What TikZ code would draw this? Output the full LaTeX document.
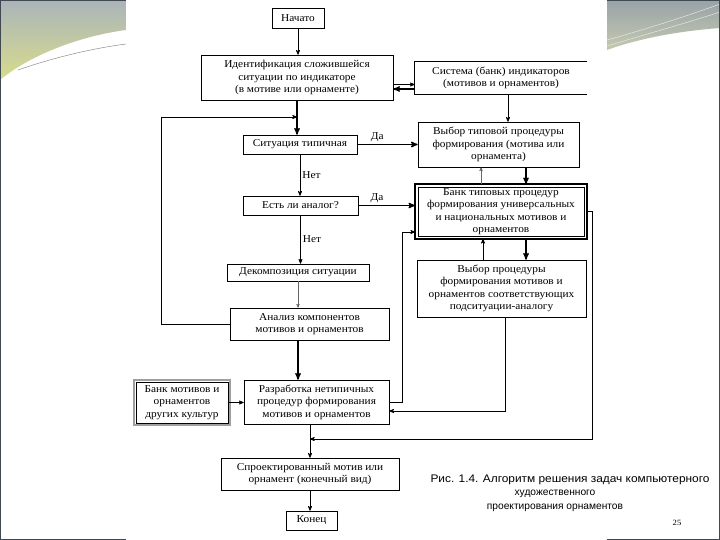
\documentclass[tikz,border=0pt]{standalone}
\usepackage{fontspec}
\setmainfont{Liberation Serif}[FakeStretch=1.08]
\newfontfamily\podpis{Liberation Sans}[FakeStretch=1.08]
\newfontfamily\podpisuzk{Liberation Sans}
\usetikzlibrary{calc,positioning,arrows}
\definecolor{ramka}{RGB}{64,72,80}
\definecolor{seryj}{RGB}{170,180,186}
\definecolor{zhelt}{RGB}{216,220,140}
\definecolor{olivk}{RGB}{196,202,176}

\begin{document}
\begin{tikzpicture}[x=1pt,y=-1pt,>=stealth',
    blok/.style={draw,line width=0.6pt,align=center,inner sep=1pt,font=\fontsize{10.5}{12.5}\selectfont},
    linia/.style={->,line width=0.7pt},
    tolst/.style={->,line width=1.3pt},
    tonk/.style={->,line width=0.45pt,black!60},
    metka/.style={font=\fontsize{10.5}{12}\selectfont,inner sep=2pt},
    podp/.style={font=\podpis\fontsize{11}{12}\selectfont},
    podp2/.style={font=\podpisuzk\fontsize{10.2}{12}\selectfont}]

    \useasboundingbox (0,0) rectangle (720,540);

    %Fond du slide
    \fill[white] (0,0) rectangle (720,540);
    \shade[top color=seryj,bottom color=zhelt] (0,0) -- (126,0) -- (126,30) .. controls (80,36) and (30,55) .. (0,80) -- cycle;
    \draw[black!45,line width=0.5pt] (18,70) .. controls (55,57) and (95,48) .. (126,44);
    \shade[top color=seryj!90!black,bottom color=olivk] (607,0) -- (720,0) -- (720,28) .. controls (680,31) and (640,38) .. (607,50) -- cycle;
    \draw[white!80!gray,line width=0.5pt] (607,40) .. controls (650,28) and (690,15) .. (720,4);
    \draw[white!80!gray,line width=0.5pt] (607,46) .. controls (650,33) and (690,22) .. (720,12);
    \draw[ramka,line width=1.5pt] (0,0) rectangle (720,540);
    \fill[white] (126,0) rectangle (607,540);

    %Blocs
    \node[blok,minimum width=52pt,minimum height=20pt] (nachalo) at (298,18) {Начато};
    \node[blok,minimum width=192pt,minimum height=45pt] (ident) at (297,77.5) {Идентификация сложившейся\\ситуации по индикаторе\\(в мотиве или орнаменте)};
    \node[blok,draw=none,minimum width=172pt,minimum height=32pt] (sistema) at (501,78) {Система (банк) индикаторов\\(мотивов и орнаментов)};
    \draw[line width=0.6pt] (sistema.north east) -| (sistema.south west) -- (sistema.south east);
    \node[blok,minimum width=114pt,minimum height=19pt] (tipich) at (300,144.5) {Ситуация типичная};
    \node[blok,minimum width=161pt,minimum height=45pt] (vybortip) at (498.5,144.5) {Выбор типовой процедуры\\формирования (мотива или\\орнамента)};
    \node[blok,minimum width=115pt,minimum height=19pt] (analog) at (300.5,205.5) {Есть ли аналог?};
    \node[blok,minimum width=166pt,minimum height=49pt] (bank) at (501,211.5) {Банк типовых процедур\\формирования универсальных\\и национальных мотивов и\\орнаментов};
    \draw[line width=1.3pt] ([shift={(-2.6pt,2.6pt)}]bank.north west) rectangle ([shift={(2.6pt,-2.6pt)}]bank.south east);
    \node[blok,minimum width=142pt,minimum height=17pt] (dekomp) at (298,272.5) {Декомпозиция ситуации};
    \node[blok,minimum width=169pt,minimum height=57pt] (vyborproc) at (501.5,288.5) {Выбор процедуры\\формирования мотивов и\\орнаментов соответствующих\\подситуации-аналогу};
    \node[blok,minimum width=159pt,minimum height=32pt] (analiz) at (309.5,324) {Анализ компонентов\\мотивов и орнаментов};
    \node[blok,minimum width=145pt,minimum height=44pt] (razrab) at (316.5,402) {Разработка нетипичных\\процедур формирования\\мотивов и орнаментов};
    \node[blok,minimum width=92pt,minimum height=41pt] (drugie) at (182,402.5) {Банк мотивов и\\орнаментов\\других культур};
    \draw[gray!75,line width=2.6pt] ([shift={(-1.6pt,1.6pt)}]drugie.north west) rectangle ([shift={(1.6pt,-1.6pt)}]drugie.south east);
    \node[blok,minimum width=178pt,minimum height=32pt] (sproekt) at (310,474) {Спроектированный мотив или\\орнамент (конечный вид)};
    \node[blok,minimum width=51pt,minimum height=19pt] (konec) at (311.5,520.5) {Конец};

    %Fleches
    \draw[linia] (nachalo.south) -- (nachalo.south |- ident.north);
    \draw[linia] ([yshift=-7pt]ident.east) -- ([yshift=-7pt]ident.east -| sistema.west);
    \draw[tolst] ([yshift=-11.5pt]ident.east -| sistema.west) -- ([yshift=-11.5pt]ident.east);
    \draw[tolst] (ident.south) -- (ident.south |- tipich.north);
    \coordinate (vozvrat) at (297,117);
    \draw[linia] (analiz.west) -- ++(-68,0) |- (vozvrat);
    \draw[tolst] (tipich.east) -- node[metka,above,pos=0.33]{Да} (tipich.east -| vybortip.west);
    \draw[linia] ([xshift=7pt]sistema.south) -- ([xshift=7pt]sistema.south |- vybortip.north);
    \draw[linia] (tipich.south) -- node[metka,right,pos=0.5]{Нет} (tipich.south |- analog.north);
    \draw[tolst] (analog.east) -- node[metka,above,pos=0.33]{Да} ([xshift=-2.6pt]analog.east -| bank.west);
    \draw[tonk] ([xshift=-20pt,yshift=2.6pt]bank.north) -- ([xshift=-20pt]bank.north |- vybortip.south);
    \draw[tolst] ([xshift=25pt]bank.north |- vybortip.south) -- ([xshift=25pt,yshift=2.6pt]bank.north);
    \draw[linia] ([xshift=-18pt]bank.south |- vyborproc.north) -- ([xshift=-18pt,yshift=-2.6pt]bank.south);
    \draw[tolst] ([xshift=25pt,yshift=-2.6pt]bank.south) -- ([xshift=25pt]bank.south |- vyborproc.north);
    \draw[linia] (analog.south) -- node[metka,right,pos=0.5]{Нет} (analog.south |- dekomp.north);
    \draw[tonk] (dekomp.south) -- (dekomp.south |- analiz.north);
    \draw[tolst] (analiz.south -| dekomp) -- (dekomp |- razrab.north);
    \draw[linia] (drugie.east) -- (drugie.east -| razrab.west);
    \draw[linia] (razrab.east) -- ++(13,0) |- ([xshift=-2.6pt,yshift=-20.5pt]bank.west);
    \draw[linia] ([xshift=3.5pt]vyborproc.south) |- ([yshift=-9pt]razrab.east);
    \coordinate (vkhod) at (310,439);
    \draw[linia] ([xshift=2.6pt]bank.east) -- ++(5,0) |- (vkhod);
    \draw[linia] (razrab.south -| sproekt) -- (sproekt.north);
    \draw[linia] (sproekt.south) -- (sproekt.south |- konec.north);

    %Legende
    \node[podp] (ris) at (570,480) {Рис. 1.4. Алгоритм решения задач компьютерного};
    \node[podp2] (ris2) at (555,494) {художественного};
    \node[podp2] (ris3) at (555,508) {проектирования орнаментов};
    \node[font=\fontsize{8}{9}\selectfont] (stranica) at (677,523) {25};

\end{tikzpicture}
\end{document}
